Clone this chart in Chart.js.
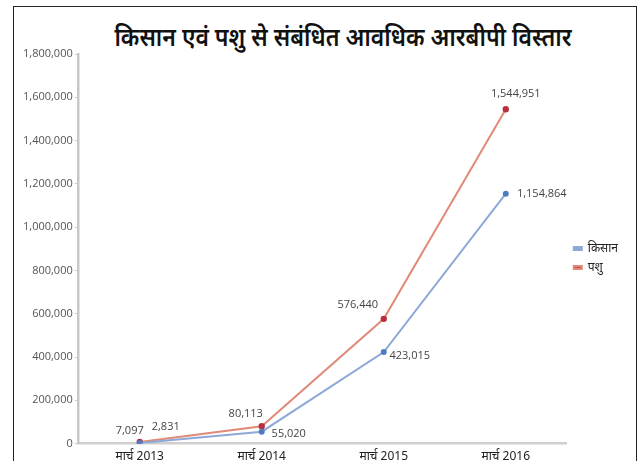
<!DOCTYPE html>
<html>
<head>
<meta charset="utf-8">
<title>किसान एवं पशु से संबंधित आवधिक आरबीपी विस्तार</title>
<script src="https://cdn.jsdelivr.net/npm/chart.js@4"></script>
<style>
  html, body { margin: 0; padding: 0; background: #fff; overflow: hidden; }
  #wrap { position: relative; width: 642px; height: 461px; overflow: hidden; }
  #frame { position: absolute; left: 13px; top: 6px; width: 622px; height: 480px; border: 1.5px solid #222; }
  #title {
    position: absolute; left: 0; top: 21px; width: 686px; text-align: center;
    font-family: "Noto Sans", sans-serif; font-weight: 600; font-size: 25px; color: #111;
    line-height: 30px; transform: scaleX(0.92);
  }
  #chart { position: absolute; left: 0; top: 0; }
</style>
</head>
<body>
<div id="wrap">
  <div id="frame"></div>
  <div id="title">किसान एवं पशु से संबंधित आवधिक आरबीपी विस्तार</div>
  <canvas id="chart" width="642" height="462"></canvas>
</div>
<script>
// categories and series
const years = ['मार्च 2013', 'मार्च 2014', 'मार्च 2015', 'मार्च 2016'];
const kisan = [2831, 55020, 423015, 1154864];
const pashu = [7097, 80113, 576440, 1544951];
const yTicks = [0, 200000, 400000, 600000, 800000, 1000000, 1200000, 1400000, 1600000, 1800000];

const fmt = v => v.toLocaleString('en-US');

// where each value label sits relative to its point
const labelShift = {
  pashu: [[-10, -11], [-16, -12], [-26, -14], [10, -15]],
  kisan: [[26, -16], [27, 2], [26, 4], [36, 0]]
};

const valueLabels = {
  id: 'valueLabels',
  afterDatasetsDraw(chart) {
    const ctx = chart.ctx;
    ctx.save();
    ctx.font = '11px "Open Sans", sans-serif';
    ctx.fillStyle = '#444';
    ctx.textAlign = 'center';
    ctx.textBaseline = 'middle';
    chart.data.datasets.forEach((ds, i) => {
      const meta = chart.getDatasetMeta(i);
      const shift = labelShift[ds.key];
      meta.data.forEach((pt, j) => {
        ctx.fillText(fmt(ds.data[j]), pt.x + shift[j][0], pt.y + shift[j][1]);
      });
    });
    ctx.restore();
  }
};

new Chart(document.getElementById('chart'), {
  type: 'line',
  data: {
    labels: years,
    datasets: [
      {
        key: 'kisan',
        label: 'किसान',
        data: kisan,
        borderColor: '#8ea8d8',
        backgroundColor: '#8ea8d8',
        pointBackgroundColor: '#4f7cc0',
        pointBorderColor: '#4f7cc0',
        borderWidth: 2,
        pointRadius: 2,
        tension: 0
      },
      {
        key: 'pashu',
        label: 'पशु',
        data: pashu,
        borderColor: '#e08a78',
        backgroundColor: '#d0485a',
        pointBackgroundColor: '#b8303f',
        pointBorderColor: '#b8303f',
        borderWidth: 2,
        pointRadius: 2.2,
        tension: 0
      }
    ]
  },
  options: {
    responsive: false,
    animation: false,
    layout: { padding: { left: 21, right: 14, top: 54, bottom: 0 } },
    plugins: {
      title: { display: false },
      tooltip: { enabled: false },
      legend: {
        position: 'right',
        align: 'center',
        labels: {
          boxWidth: 8,
          boxHeight: 3,
          padding: 7,
          color: '#222',
          font: { family: '"Noto Sans", sans-serif', size: 12 }
        }
      }
    },
    scales: {
      x: {
        type: 'category',
        offset: true,
        grid: { display: false },
        border: { display: true, color: '#cfcfcf', width: 2.5 },
        ticks: {
          color: '#222',
          padding: -2,
          maxRotation: 0,
          font: { family: '"Noto Sans", sans-serif', size: 12 }
        }
      },
      y: {
        min: 0,
        max: 1800000,
        afterBuildTicks(axis) { axis.ticks = yTicks.map(v => ({ value: v })); },
        grid: { display: true, drawOnChartArea: false, drawTicks: true, tickLength: 4, color: '#cfcfcf' },
        border: { display: true, color: '#c8c8c8', width: 2.5 },
        ticks: {
          color: '#555',
          padding: 2,
          font: { family: '"Open Sans", sans-serif', size: 11 },
          callback: v => fmt(v)
        }
      }
    }
  },
  plugins: [valueLabels]
});
</script>
</body>
</html>
